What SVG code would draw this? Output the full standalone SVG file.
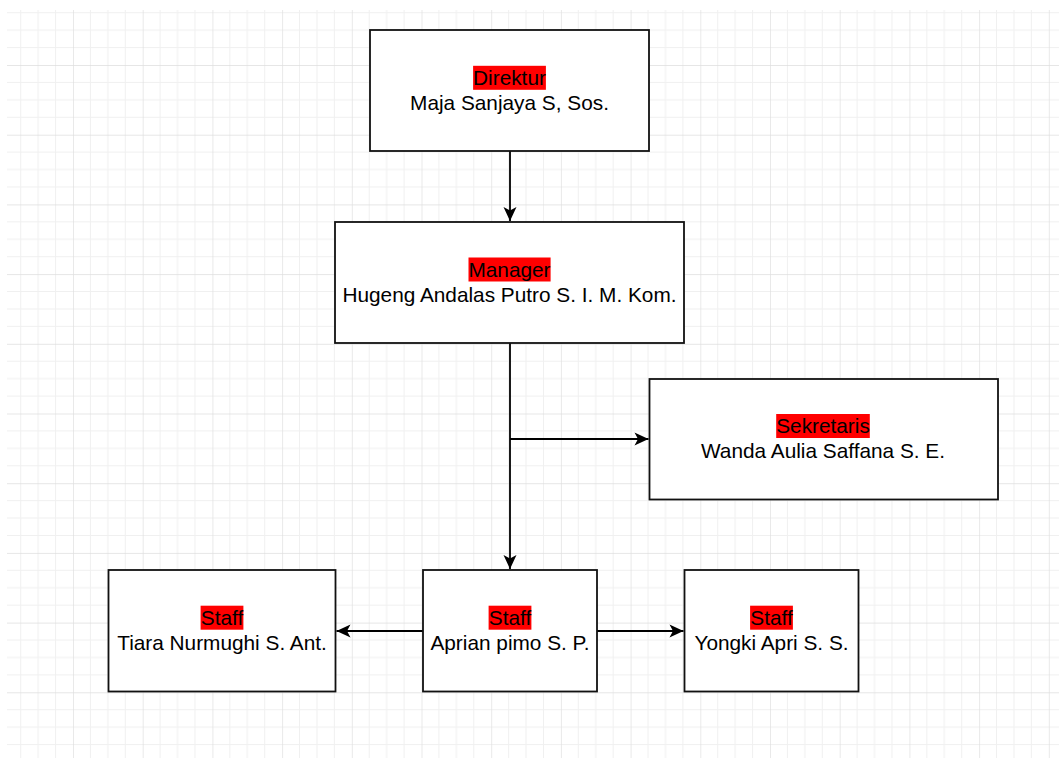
<svg xmlns="http://www.w3.org/2000/svg" width="1059" height="758" viewBox="0 0 1059 758">
  <defs>
    <pattern id="grid" patternUnits="userSpaceOnUse" x="73" y="65" width="69.7" height="69.7">
      <g stroke="#f0f0f0" stroke-width="1">
        <line x1="17.425" y1="0" x2="17.425" y2="69.7"/>
        <line x1="34.85" y1="0" x2="34.85" y2="69.7"/>
        <line x1="52.275" y1="0" x2="52.275" y2="69.7"/>
        <line x1="0" y1="17.425" x2="69.7" y2="17.425"/>
        <line x1="0" y1="34.85" x2="69.7" y2="34.85"/>
        <line x1="0" y1="52.275" x2="69.7" y2="52.275"/>
      </g>
      <g stroke="#dedede" stroke-width="1.3">
        <line x1="0" y1="0" x2="0" y2="69.7"/>
        <line x1="0" y1="0" x2="69.7" y2="0"/>
      </g>
    </pattern>
    <marker id="arrow" viewBox="-15 -8 16 16" refX="0" refY="0" markerWidth="16" markerHeight="16" markerUnits="userSpaceOnUse" orient="auto">
      <path d="M0,0 L-14,-6.5 L-10.5,0 L-14,6.5 Z" fill="#000"/>
    </marker>
    <style>
      .box { fill: #ffffff; stroke: #111; stroke-width: 1.8; }
      .hl { fill: #ff0000; }
      .t { font-family: "Liberation Sans", Arial, sans-serif; font-size: 20.8px; fill: #000; text-anchor: middle; }
      .edge { fill: none; stroke: #000; stroke-width: 1.8; }
    </style>
  </defs>

  <rect x="0" y="0" width="1059" height="758" fill="#ffffff"/>
  <rect x="7" y="10" width="1052" height="748" fill="url(#grid)"/>

  <g id="connectors">
    <line class="edge" x1="510" y1="151" x2="510" y2="221" marker-end="url(#arrow)"/>
    <line class="edge" x1="510" y1="343" x2="510" y2="569" marker-end="url(#arrow)"/>
    <line class="edge" x1="510" y1="439" x2="648.5" y2="439" marker-end="url(#arrow)"/>
    <line class="edge" x1="423" y1="631" x2="336.5" y2="631" marker-end="url(#arrow)"/>
    <line class="edge" x1="597" y1="631" x2="683.5" y2="631" marker-end="url(#arrow)"/>
  </g>

  <g id="direktur">
    <rect class="box" x="370" y="30" width="279" height="121"/>
    <rect class="hl" x="473.1" y="65.8" width="72.8" height="24"/>
    <text class="t" x="509.5" y="85">Direktur</text>
    <text class="t" x="509.5" y="110">Maja Sanjaya S, Sos.</text>
  </g>

  <g id="manager">
    <rect class="box" x="335" y="222" width="349" height="121"/>
    <rect class="hl" x="468.5" y="257.5" width="82.1" height="24"/>
    <text class="t" x="509.5" y="276.5">Manager</text>
    <text class="t" x="509.5" y="301.5">Hugeng Andalas Putro S. I. M. Kom.</text>
  </g>

  <g id="sekretaris">
    <rect class="box" x="649.5" y="379" width="348.5" height="120.5"/>
    <rect class="hl" x="776.2" y="414" width="93.6" height="24"/>
    <text class="t" x="823" y="433">Sekretaris</text>
    <text class="t" x="823" y="458">Wanda Aulia Saffana S. E.</text>
  </g>

  <g id="staff-tiara">
    <rect class="box" x="108.5" y="570" width="227" height="121.5"/>
    <rect class="hl" x="200.6" y="605.7" width="42.8" height="24"/>
    <text class="t" x="222" y="624.5">Staff</text>
    <text class="t" x="222" y="649.5">Tiara Nurmughi S. Ant.</text>
  </g>

  <g id="staff-aprian">
    <rect class="box" x="423" y="570" width="174" height="121.5"/>
    <rect class="hl" x="488.6" y="605.7" width="42.8" height="24"/>
    <text class="t" x="510" y="624.5">Staff</text>
    <text class="t" x="510" y="649.5">Aprian pimo S. P.</text>
  </g>

  <g id="staff-yongki">
    <rect class="box" x="684.5" y="570" width="174" height="121.5"/>
    <rect class="hl" x="750.1" y="605.7" width="42.8" height="24"/>
    <text class="t" x="771.5" y="624.5">Staff</text>
    <text class="t" x="771.5" y="649.5">Yongki Apri S. S.</text>
  </g>
</svg>
